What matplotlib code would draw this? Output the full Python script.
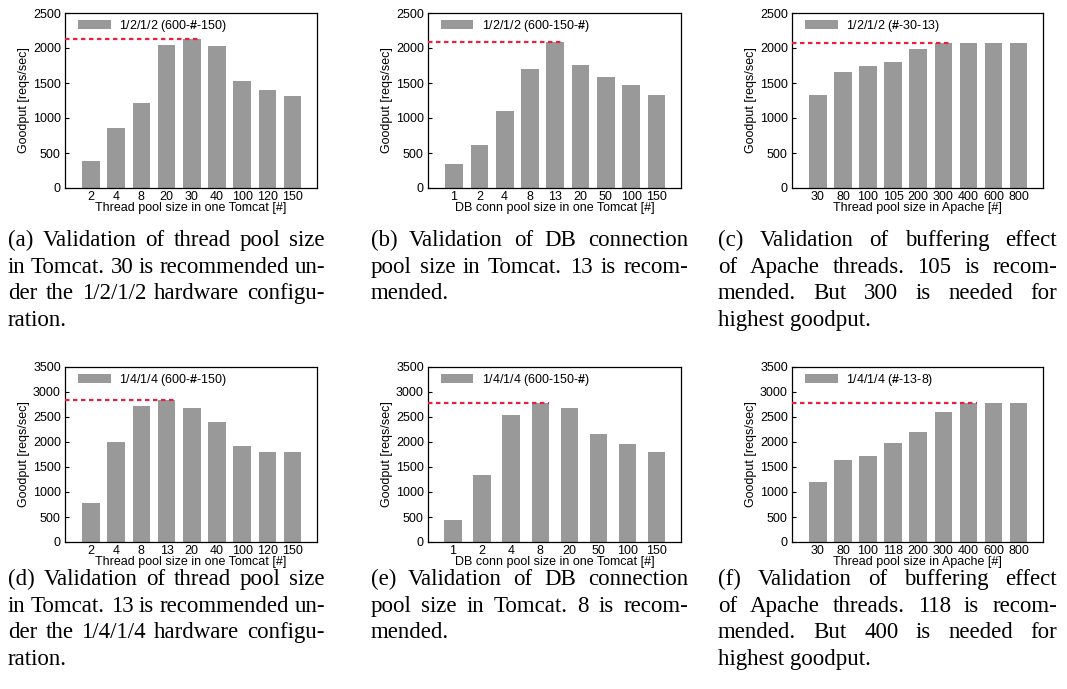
import matplotlib
matplotlib.use('Agg')
import matplotlib.pyplot as plt

plt.rcParams['font.family'] = 'Liberation Sans'
plt.rcParams['mathtext.fontset'] = 'custom'
plt.rcParams['mathtext.rm'] = 'Liberation Sans'
plt.rcParams['mathtext.bf'] = 'Liberation Sans:bold'

BAR_COLOR = '#999999'
PEAK_COLOR = '#e8213d'
FS = 9
CAP_FS = 16.5

# goodput measurements [reqs/sec]
tomcat_threads_a = ['2', '4', '8', '20', '30', '40', '100', '120', '150']
goodput_a = [383, 857, 1216, 2050, 2122, 2035, 1533, 1403, 1317]

db_conn_b = ['1', '2', '4', '8', '13', '20', '50', '100', '150']
goodput_b = [341, 615, 1106, 1697, 2090, 1755, 1582, 1466, 1322]

apache_threads_c = ['30', '80', '100', '105', '200', '300', '400', '600', '800']
goodput_c = [1322, 1654, 1740, 1803, 1986, 2070, 2070, 2070, 2070]

tomcat_threads_d = ['2', '4', '8', '13', '20', '40', '100', '120', '150']
goodput_d = [787, 2007, 2727, 2833, 2687, 2407, 1927, 1807, 1807]

db_conn_e = ['1', '2', '4', '8', '20', '50', '100', '150']
goodput_e = [447, 1347, 2547, 2790, 2687, 2167, 1967, 1807]

apache_threads_f = ['30', '80', '100', '118', '200', '300', '400', '600', '800']
goodput_f = [1207, 1647, 1727, 1987, 2207, 2607, 2790, 2790, 2790]

legends = ['1/2/1/2 (600-$\\mathbf{\\#}$-150)', '1/2/1/2 (600-150-$\\mathbf{\\#}$)',
           '1/2/1/2 ($\\mathbf{\\#}$-30-13)', '1/4/1/4 (600-$\\mathbf{\\#}$-150)',
           '1/4/1/4 (600-150-$\\mathbf{\\#}$)', '1/4/1/4 ($\\mathbf{\\#}$-13-8)']
xlabels = ['Thread pool size in one Tomcat [#]', 'DB conn pool size in one Tomcat [#]',
           'Thread pool size in Apache [#]'] * 2

captions = [
    ['(a) Validation of thread pool size', 'in Tomcat. 30 is recommended un-',
     'der the 1/2/1/2 hardware configu-', 'ration.'],
    ['(b) Validation of DB connection', 'pool size in Tomcat. 13 is recom-', 'mended.'],
    ['(c) Validation of buffering effect', 'of Apache threads. 105 is recom-',
     'mended. But 300 is needed for', 'highest goodput.'],
    ['(d) Validation of thread pool size', 'in Tomcat. 13 is recommended un-',
     'der the 1/4/1/4 hardware configu-', 'ration.'],
    ['(e) Validation of DB connection', 'pool size in Tomcat. 8 is recom-', 'mended.'],
    ['(f) Validation of buffering effect', 'of Apache threads. 118 is recom-',
     'mended. But 400 is needed for', 'highest goodput.'],
]

panels = [(tomcat_threads_a, goodput_a), (db_conn_b, goodput_b), (apache_threads_c, goodput_c),
          (tomcat_threads_d, goodput_d), (db_conn_e, goodput_e), (apache_threads_f, goodput_f)]

W, H = 1067, 689
fig = plt.figure(figsize=(W / 100, H / 100), dpi=100)

lefts = [65, 428, 792]
widths = [252, 253, 251]
tops = [13, 367]
ax_h = 175
cap_x = [(8, 325), (371, 688), (718, 1057)]
cap_base = [246, 585]
LINE_H = 26.7


def justified(lines, x0, x1, y0, renderer):
    # lay out a caption paragraph with full-width lines, last line left aligned
    for k, line in enumerate(lines):
        yb = 1 - (y0 + k * LINE_H) / H
        if k == len(lines) - 1:
            fig.text(x0 / W, yb, line, family='Liberation Serif', fontsize=CAP_FS, va='baseline')
            continue
        words = line.split(' ')
        texts = [fig.text(0, yb, w, family='Liberation Serif', fontsize=CAP_FS, va='baseline')
                 for w in words]
        ws = [t.get_window_extent(renderer).width for t in texts]
        gap = (x1 - x0 - sum(ws)) / (len(words) - 1)
        x = x0
        for t, w in zip(texts, ws):
            t.set_x(x / W)
            x += w + gap


renderer = fig.canvas.get_renderer()

for i, (cats, vals) in enumerate(panels):
    row, col = divmod(i, 3)
    ax = fig.add_axes([lefts[col] / W, 1 - (tops[row] + ax_h) / H, widths[col] / W, ax_h / H])
    n = len(cats)
    if n == 9:
        bw = 0.7
        ax.set_xlim(-1.03, 8.97)
    else:
        bw = 0.6
        ax.set_xlim(-0.86, 7.84)
    xs = list(range(n))
    ax.bar(xs, vals, bw, color=BAR_COLOR, label=legends[i], zorder=2)

    peak = max(vals)
    ip = vals.index(peak)
    ax.hlines(peak, ax.get_xlim()[0], ip + bw / 2, colors=PEAK_COLOR, linestyles=(0, (2.0, 1.6)),
              linewidth=1.6, zorder=3)

    ymax = 2500 if row == 0 else 3500
    ax.set_ylim(0, ymax)
    ax.set_yticks(range(0, ymax + 1, 500))
    ax.set_xticks(xs)
    ax.set_xticklabels(cats)
    ax.tick_params(axis='y', direction='in', length=3, width=0.8, pad=3, labelsize=FS)
    ax.tick_params(axis='x', length=0, pad=2.5, labelsize=FS)
    for s in ax.spines.values():
        s.set_linewidth(0.9)
    ax.set_ylabel('Goodput [reqs/sec]', fontsize=FS, labelpad=2)
    ax.set_xlabel(xlabels[i], fontsize=FS, labelpad=-1)

    ax.legend(loc='upper left', bbox_to_anchor=(13 / widths[col], 1 - 5 / ax_h), frameon=False,
              fontsize=FS, borderaxespad=0, borderpad=0, handlelength=2.6, handleheight=0.65,
              handletextpad=0.7)

    justified(captions[i], cap_x[col][0], cap_x[col][1], cap_base[row], renderer)

fig.savefig('out.png', dpi=100)
